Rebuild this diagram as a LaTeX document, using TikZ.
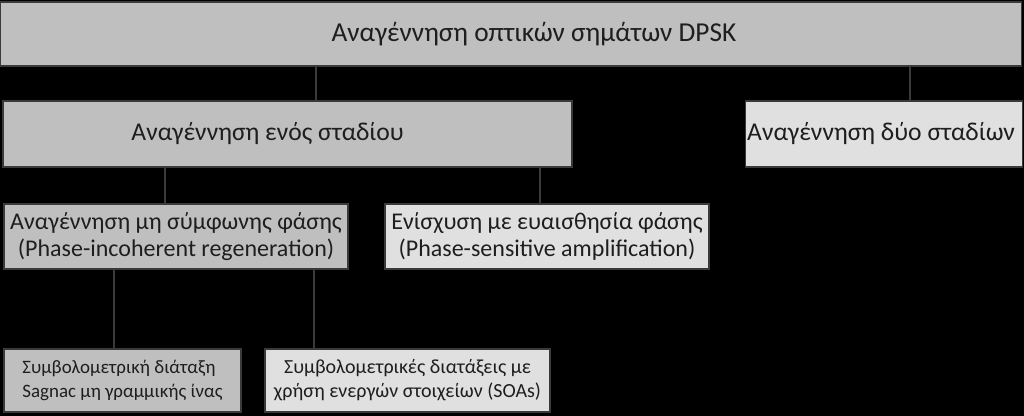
\documentclass[tikz,border=0pt]{standalone}
\usepackage{fontspec}
\setmainfont{Carlito}
\definecolor{boxdark}{HTML}{BFBFBF}
\definecolor{boxlight}{HTML}{E0E0E0}
\definecolor{edge}{HTML}{3A3A3A}
\definecolor{ink}{HTML}{1E1E1E}
\tikzset{
    box/.style={rectangle, draw=edge, line width=0.8pt, text=ink, inner sep=1pt, align=center},
    darkbox/.style={box, fill=boxdark},
    lightbox/.style={box, fill=boxlight},
    link/.style={draw=edge, line width=0.8pt}
}
\begin{document}
\begin{tikzpicture}[x=0.75pt, y=-0.75pt]

        \fill[black] (0,0) rectangle (1024,416);
        \useasboundingbox (0,0) rectangle (1024,416);

        \node[darkbox, minimum width=0.75pt*1021, minimum height=0.75pt*64, font=\fontsize{20.5}{24}\selectfont] (top) at (511, 34) { \hspace*{39pt}Αναγέννηση οπτικών σημάτων DPSK };

        \node[darkbox, minimum width=0.75pt*569, minimum height=0.75pt*66, font=\fontsize{19.2}{23}\selectfont] (one) at (287.5, 134) { \raisebox{2pt}{Αναγέννηση ενός σταδίου}\hspace*{25.5pt} };
        \node[lightbox, minimum width=0.75pt*276, minimum height=0.75pt*66, font=\fontsize{19.2}{23}\selectfont] (two) at (884, 134) { Αναγέννηση δύο σταδίων };

        \node[darkbox, minimum width=0.75pt*344, minimum height=0.75pt*65, font=\fontsize{18}{20}\selectfont] (incoh) at (176, 236.5) { Αναγέννηση μη σύμφωνης φάσης\\(Phase-incoherent regeneration) };
        \node[lightbox, minimum width=0.75pt*324, minimum height=0.75pt*65, font=\fontsize{18}{20}\selectfont] (psa) at (547, 236.5) { Ενίσχυση με ευαισθησία φάσης\\(Phase-sensitive amplification) };

        \node[darkbox, minimum width=0.75pt*237, minimum height=0.75pt*63, font=\fontsize{14.2}{18}\selectfont, align=left] (sagnac) at (122.5, 380.5) { Συμβολομετρική διάταξη\\Sagnac μη γραμμικής ίνας };
        \node[lightbox, minimum width=0.75pt*285, minimum height=0.75pt*63, font=\fontsize{15}{18}\selectfont] (soa) at (407.5, 380.5) { Συμβολομετρικές διατάξεις με\\χρήση ενεργών στοιχείων (SOAs) };

        \draw[link] (top.south -| 316,0) -- (one.north -| 316,0);
        \draw[link] (top.south -| 910,0) -- (two.north -| 910,0);
        \draw[link] (one.south -| 165,0) -- (incoh.north -| 165,0);
        \draw[link] (one.south -| 540,0) -- (psa.north -| 540,0);
        \draw[link] (incoh.south -| 114,0) -- (sagnac.north -| 114,0);
        \draw[link] (incoh.south -| 314,0) -- (soa.north -| 314,0);

    \end{tikzpicture}
\end{document}
